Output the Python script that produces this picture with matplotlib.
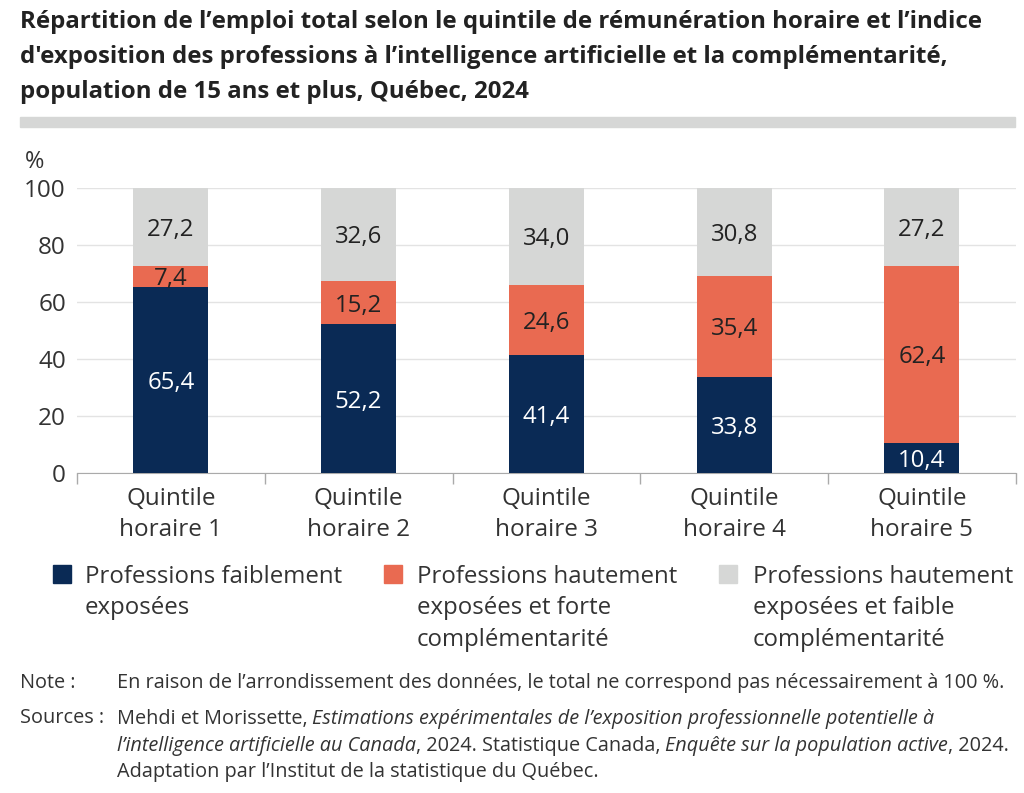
import matplotlib.pyplot as plt
from matplotlib.patches import Rectangle
import numpy as np

plt.rcParams['font.family'] = ['Open Sans', 'DejaVu Sans']

# Data
categories = ['Quintile\nhoraire 1', 'Quintile\nhoraire 2', 'Quintile\nhoraire 3',
              'Quintile\nhoraire 4', 'Quintile\nhoraire 5']
faible_expo = [65.4, 52.2, 41.4, 33.8, 10.4]
forte_compl = [7.4, 15.2, 24.6, 35.4, 62.4]
faible_compl = [27.2, 32.6, 34.0, 30.8, 27.2]
series_labels = ['Professions faiblement\nexposées',
                 'Professions hautement\nexposées et forte\ncomplémentarité',
                 'Professions hautement\nexposées et faible\ncomplémentarité']
colors = ['#0a2a55', '#e96a51', '#d6d7d6']
label_colors = ['white', '#222222', '#222222']
yticks = [0, 20, 40, 60, 80, 100]

fig = plt.figure(figsize=(10.24, 7.93), dpi=100)
ax = fig.add_axes([0.0752, 0.4035, 0.9168, 0.3594])

x = np.arange(len(categories))
bottom = np.zeros(len(categories))
for vals, col, lc in zip([faible_expo, forte_compl, faible_compl], colors, label_colors):
    ax.bar(x, vals, width=0.4, bottom=bottom, color=col, zorder=3)
    for xi, b, v in zip(x, bottom, vals):
        ax.text(xi, b + v / 2, f'{v:.1f}'.replace('.', ','), ha='center',
                va='center_baseline', color=lc, fontsize=17.3, zorder=4)
    bottom += np.array(vals)

ax.set_xlim(-0.5, 4.5)
ax.set_ylim(0, 100)
ax.set_yticks(yticks)
ax.set_yticklabels([str(t) for t in yticks], fontsize=17.5, color='#333333')
ax.tick_params(axis='y', length=0, pad=8)
ax.grid(axis='y', color='#e3e3e3', linewidth=1, zorder=0)

ax.set_xticks(x)
ax.set_xticklabels(categories, fontsize=17.5, color='#333333', linespacing=1.37)
ax.tick_params(axis='x', length=0, pad=10)
ax.set_xticks(np.arange(-0.5, 5, 1), minor=True)
ax.tick_params(axis='x', which='minor', length=8, color='#aaaaaa', width=1)

for s in ['top', 'right', 'left']:
    ax.spines[s].set_visible(False)
ax.spines['bottom'].set_color('#aaaaaa')

ax.text(-0.056, 1.05, '%', transform=ax.transAxes, fontsize=17, color='#333333',
        ha='left', va='bottom')

# Title
fig.text(0.0195, 0.988, "Répartition de l’emploi total selon le quintile de rémunération horaire et l’indice\n"
         "d'exposition des professions à l’intelligence artificielle et la complémentarité,\n"
         "population de 15 ans et plus, Québec, 2024",
         fontsize=17.3, fontweight='bold', color='#222222', va='top', ha='left', linespacing=1.62)
fig.patches.append(Rectangle((0.0195, 0.840), 0.972, 0.0126, transform=fig.transFigure,
                             color='#d6d7d6', zorder=0))

# Legend
leg_x = [0.0515, 0.375, 0.702]
txt_x = [0.083, 0.407, 0.735]
for lx, tx, lab, col in zip(leg_x, txt_x, series_labels, colors):
    fig.patches.append(Rectangle((lx, 0.265), 0.0176, 0.0227, transform=fig.transFigure,
                                 color=col))
    fig.text(tx, 0.288, lab, fontsize=17.3, color='#333333', va='top', ha='left',
             linespacing=1.43)

# Notes
fs = 14.3
nc = '#333333'
fig.text(0.0195, 0.139, 'Note :', fontsize=fs, color=nc, va='center')
fig.text(0.114, 0.139, 'En raison de l’arrondissement des données, le total ne correspond pas '
         'nécessairement à 100 %.', fontsize=fs, color=nc, va='center')
fig.text(0.0195, 0.094, 'Sources :', fontsize=fs, color=nc, va='center')


def chain_line(parts, x0, y0):
    prev = fig.text(x0, y0, parts[0][0], fontsize=fs, color=nc, va='baseline',
                    style=parts[0][1])
    for txt, st in parts[1:]:
        prev = ax.annotate(txt, xy=(1, 0), xycoords=prev, va='bottom', ha='left',
                           fontsize=fs, color=nc, style=st, annotation_clip=False)
    return prev


chain_line([('Mehdi et Morissette, ', 'normal'),
            ('Estimations expérimentales de l’exposition professionnelle potentielle à', 'italic')],
           0.114, 0.087)
chain_line([('l’intelligence artificielle au Canada', 'italic'),
            (', 2024. Statistique Canada, ', 'normal'),
            ('Enquête sur la population active', 'italic'),
            (', 2024.', 'normal')],
           0.114, 0.053)
chain_line([('Adaptation par l’Institut de la statistique du Québec.', 'normal')],
           0.114, 0.020)

fig.savefig('out.png', dpi=100)
